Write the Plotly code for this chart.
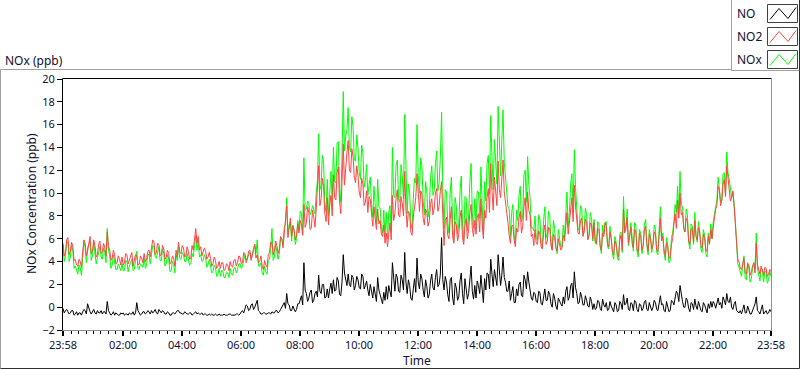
import pandas as pd
import plotly.graph_objects as go

# ---- data: samples every 5 min (a) and the in-between samples (b) ----
start_time = "2020-01-01 23:58"
step = "5min"
half_step = "150s"

no2_rows = [
    [5.6, 4.8, 6.1, 4.9, 5.3, 4.2, 3.6, 4.0, 4.8, 5.6, 4.9, 6.2],
    [4.9, 5.4, 4.6, 5.8, 4.8, 5.2, 6.6, 5.0, 4.3, 4.6, 3.9, 4.2],
    [4.4, 3.9, 4.6, 4.1, 4.8, 4.0, 4.5, 3.8, 4.3, 4.7, 4.2, 5.0],
    [5.2, 5.7, 4.8, 5.5, 4.6, 5.1, 4.4, 4.7, 3.9, 4.3, 5.0, 5.7],
    [4.7, 5.2, 4.5, 4.9, 4.3, 5.0, 6.9, 6.2, 5.3, 4.8, 4.9, 4.4],
    [4.3, 3.8, 4.1, 3.6, 3.4, 3.9, 3.3, 3.7, 4.0, 3.5, 4.2, 3.9],
    [4.4, 3.9, 4.7, 4.2, 5.0, 4.5, 5.5, 4.6, 4.0, 3.6, 4.1, 3.5],
    [4.8, 5.6, 4.9, 5.4, 5.1, 6.0, 6.6, 8.9, 7.0, 6.2, 6.8, 6.3],
    [6.5, 7.2, 9.0, 7.4, 8.3, 6.9, 7.9, 8.6, 12.4, 9.5, 10.6, 7.5],
    [7.2, 9.8, 11.6, 9.4, 12.3, 8.2, 14.3, 12.5, 14.6, 11.8, 13.2, 10.9],
    [11.5, 9.6, 10.8, 9.2, 8.3, 9.4, 7.1, 8.0, 8.6, 7.6, 6.2, 5.6],
    [5.3, 7.4, 9.8, 8.2, 10.3, 7.9, 9.1, 11.9, 7.0, 8.2, 6.3, 8.8],
    [11.7, 8.4, 9.9, 7.2, 8.3, 7.6, 9.5, 8.7, 10.4, 8.9, 11.0, 5.4],
    [7.9, 6.0, 8.8, 5.6, 7.2, 6.4, 8.5, 5.5, 7.8, 6.8, 9.0, 6.2],
    [6.4, 8.2, 9.5, 6.0, 7.8, 10.4, 12.6, 8.5, 10.2, 12.8, 9.6, 12.9],
    [9.3, 7.4, 5.6, 7.2, 5.3, 6.6, 8.4, 7.1, 9.6, 10.1, 8.1, 6.4],
    [6.8, 5.5, 6.4, 5.1, 7.2, 5.8, 6.9, 5.0, 6.1, 4.9, 5.6, 5.2],
    [5.8, 8.3, 7.4, 9.6, 10.7, 7.6, 6.4, 7.8, 6.6, 7.5, 6.3, 7.2],
    [7.4, 5.6, 6.8, 5.0, 6.2, 7.1, 5.3, 6.0, 4.6, 5.5, 4.4, 6.3],
    [8.6, 6.9, 5.6, 7.0, 5.2, 6.7, 4.8, 6.3, 5.4, 7.1, 4.9, 6.0],
    [5.5, 6.4, 4.9, 7.8, 6.2, 4.5, 5.3, 4.4, 6.0, 8.2, 9.4, 10.0],
    [8.3, 6.6, 7.5, 5.5, 6.8, 7.6, 5.9, 6.5, 5.2, 6.1, 4.9, 5.6],
    [6.0, 7.8, 8.9, 10.3, 9.4, 11.2, 12.4, 10.8, 9.6, 8.8, 5.3, 4.0],
    [3.3, 4.3, 2.9, 3.7, 3.1, 3.9, 5.6, 3.2, 3.6, 2.8, 3.4, 2.9, 3.1],
]
no2_mid_rows = [
    [4.5, 5.9, 4.6, 5.7, 4.1, 3.7, 4.2, 3.5, 5.9, 4.5, 5.8, 4.7],
    [5.9, 4.4, 5.5, 4.7, 5.6, 4.5, 5.3, 4.1, 5.0, 3.8, 4.5, 3.7],
    [3.7, 4.7, 3.8, 4.5, 3.6, 4.6, 3.7, 4.5, 3.9, 4.0, 4.9, 4.4],
    [5.9, 4.6, 5.6, 4.5, 5.4, 4.2, 5.0, 3.8, 4.5, 3.6, 4.4, 4.8],
    [5.4, 4.4, 5.3, 4.2, 5.4, 5.9, 5.6, 5.0, 4.5, 5.2, 4.2, 4.8],
    [3.6, 4.4, 3.4, 4.0, 3.9, 3.2, 3.8, 3.2, 3.6, 4.1, 3.6, 4.5],
    [3.8, 4.8, 3.9, 4.9, 4.1, 5.2, 4.3, 3.9, 4.5, 3.3, 3.7, 4.6],
    [5.7, 4.6, 5.8, 4.7, 6.2, 5.2, 7.4, 6.1, 7.8, 7.1, 5.9, 7.3],
    [7.6, 6.3, 7.0, 8.8, 6.8, 8.5, 7.0, 10.2, 8.9, 11.3, 8.2, 9.6],
    [8.9, 8.0, 9.6, 11.8, 9.3, 11.0, 10.7, 13.6, 12.0, 13.9, 11.4, 12.4],
    [10.1, 11.3, 8.9, 10.2, 9.7, 7.8, 8.8, 6.8, 7.3, 6.4, 7.2, 6.5],
    [6.4, 5.9, 7.6, 9.6, 8.1, 9.7, 8.0, 8.5, 8.4, 6.6, 7.9, 9.6],
    [9.4, 10.2, 7.8, 8.6, 7.1, 9.0, 8.1, 10.0, 8.4, 10.2, 8.0, 7.6],
    [6.3, 7.7, 6.2, 7.5, 5.8, 7.9, 6.1, 7.2, 6.0, 8.3, 6.9, 7.6],
    [7.9, 6.6, 7.4, 8.5, 9.6, 8.3, 10.2, 11.4, 8.9, 10.3, 11.8, 10.1],
    [8.2, 6.3, 7.1, 5.9, 6.9, 7.8, 6.5, 8.8, 7.6, 8.5, 6.2, 5.4],
    [5.6, 6.7, 5.3, 6.6, 5.5, 7.0, 5.4, 6.4, 5.2, 6.0, 5.0, 6.3],
    [7.2, 6.4, 8.9, 7.5, 8.8, 6.5, 7.6, 6.2, 7.7, 5.9, 7.4, 6.0],
    [5.8, 6.9, 5.4, 6.5, 7.4, 5.6, 6.6, 4.9, 5.8, 4.7, 5.9, 5.0],
    [6.5, 7.8, 6.4, 5.6, 6.8, 5.1, 6.5, 5.0, 6.8, 5.6, 6.4, 5.1],
    [6.6, 5.0, 6.3, 5.8, 5.0, 5.6, 4.3, 5.5, 7.3, 6.9, 7.8, 8.1],
    [6.9, 7.8, 5.8, 6.9, 5.7, 6.2, 7.0, 5.4, 6.4, 5.0, 6.2, 6.8],
    [7.0, 8.6, 10.6, 8.9, 10.8, 9.7, 11.3, 9.3, 10.2, 7.0, 4.2, 3.4],
    [3.9, 3.0, 3.8, 2.8, 3.6, 3.0, 3.7, 2.9, 3.1, 3.5, 2.7, 3.3],
]

no_rows = [
    [-0.1, -0.3, -0.4, -0.5, -0.3, -0.6, -0.7, -0.5, -0.4, -0.3, 0.3, -0.4],
    [-0.4, -0.5, -0.3, -0.5, -0.6, -0.4, 0.5, -0.5, -0.6, -0.7, -0.6, -0.7],
    [-0.6, -0.7, -0.6, -0.5, -0.6, -0.7, 0.4, -0.5, -0.6, -0.4, -0.5, -0.4],
    [-0.3, -0.4, -0.5, -0.2, -0.5, -0.4, -0.6, -0.5, -0.7, -0.5, -0.4, -0.3],
    [-0.5, -0.6, -0.5, -0.6, -0.5, -0.6, -0.4, -0.5, -0.6, -0.7, -0.6, -0.7],
    [-0.7, -0.7, -0.6, -0.7, -0.7, -0.7, -0.7, -0.7, -0.6, -0.7, -0.7, -0.6],
    [-0.6, -0.3, -0.1, 0.1, -0.2, 0.3, 0.0, 0.6, -0.4, -0.6, -0.5, -0.6],
    [-0.5, -0.4, -0.5, -0.3, -0.4, 0.0, 0.4, 1.2, 0.2, -0.3, -0.1, -0.2],
    [0.3, 1.0, 3.9, 1.2, 0.8, 1.5, 0.6, 1.4, 2.8, 1.2, 2.0, 0.9],
    [0.8, 2.1, 2.4, 1.5, 2.3, 1.0, 4.6, 2.5, 2.9, 1.8, 2.6, 1.9],
    [2.4, 1.6, 2.7, 1.9, 1.5, 2.0, 0.8, 1.3, 2.6, 1.1, 0.3, 0.6],
    [0.7, 1.5, 3.9, 1.4, 2.6, 1.3, 2.4, 4.8, 1.2, 1.9, 0.6, 2.5],
    [4.3, 1.6, 2.5, 0.9, 1.8, 1.1, 2.9, 1.5, 3.3, 2.0, 6.1, 1.5],
    [2.2, 0.5, 2.6, 0.2, 1.7, 0.9, 3.0, 0.3, 1.8, 1.2, 3.6, 0.7],
    [0.8, 1.9, 2.8, 0.4, 1.5, 2.9, 4.2, 1.8, 2.6, 4.6, 1.9, 4.4],
    [2.2, 1.4, 0.6, 1.8, 0.4, 1.0, 2.2, 0.9, 2.4, 3.1, 1.5, 0.6],
    [1.2, 0.4, 1.3, 0.2, 1.6, 0.6, 1.1, 0.0, 0.8, -0.2, 0.5, 0.1],
    [0.3, 1.8, 0.9, 2.1, 3.1, 1.2, 0.4, 0.9, 0.2, 0.6, 0.0, 0.5],
    [0.3, -0.1, 0.5, -0.3, 0.2, 0.4, -0.2, 0.1, -0.4, 0.2, -0.3, 0.3],
    [1.1, 0.3, -0.2, 0.4, -0.3, 0.5, -0.4, 0.2, -0.1, 0.6, -0.3, 0.1],
    [0.0, 0.4, -0.3, 1.0, 0.3, -0.4, 0.1, -0.3, 0.5, 0.8, 1.2, 1.9],
    [0.5, 0.0, 0.6, -0.4, 0.3, 0.7, -0.2, 0.1, -0.4, 0.2, -0.5, -0.1],
    [0.0, 0.3, 0.5, 0.2, -0.1, 0.6, 1.2, 0.4, 0.0, 0.3, -0.3, -0.5],
    [-0.6, 0.2, -0.5, -0.3, -0.6, 0.0, 0.9, -0.4, -0.2, -0.6, -0.3, -0.5, -0.4],
]
no_mid_rows = [
    [-0.5, -0.2, -0.6, -0.3, -0.7, -0.4, -0.5, -0.7, -0.2, -0.6, -0.2, -0.6],
    [-0.2, -0.6, -0.5, -0.3, -0.4, -0.6, -0.3, -0.7, -0.4, -0.5, -0.7, -0.5],
    [-0.5, -0.6, -0.7, -0.6, -0.4, -0.5, -0.3, -0.7, -0.4, -0.6, -0.3, -0.6],
    [-0.5, -0.2, -0.6, -0.4, -0.3, -0.6, -0.4, -0.7, -0.5, -0.6, -0.3, -0.5],
    [-0.6, -0.4, -0.6, -0.5, -0.7, -0.5, -0.6, -0.6, -0.5, -0.6, -0.7, -0.6],
    [-0.6, -0.7, -0.7, -0.6, -0.7, -0.6, -0.7, -0.6, -0.7, -0.7, -0.6, -0.7],
    [-0.4, -0.5, 0.2, -0.3, 0.2, -0.2, 0.4, -0.3, -0.6, -0.5, -0.6, -0.5],
    [-0.6, -0.5, -0.3, -0.5, -0.2, 0.3, -0.1, 0.3, -0.3, 0.1, -0.4, 0.3],
    [0.8, 0.2, 1.5, 0.5, 1.3, 0.4, 1.2, 0.9, 1.4, 2.0, 0.8, 1.6],
    [1.6, 1.2, 1.4, 2.6, 1.1, 2.2, 3.0, 1.9, 2.0, 2.8, 1.5, 2.7],
    [1.7, 2.9, 1.6, 2.3, 1.0, 1.2, 1.8, 0.5, 1.5, 0.6, 1.3, 1.8],
    [1.9, 0.9, 2.2, 2.9, 1.4, 2.8, 1.5, 2.2, 2.4, 0.8, 1.6, 1.3],
    [2.2, 2.9, 1.5, 2.4, 0.8, 2.3, 1.7, 2.6, 1.8, 2.9, 2.4, 2.7],
    [1.1, 2.4, 0.8, 2.1, 0.6, 2.3, 1.2, 2.5, 0.7, 2.7, 1.4, 1.9],
    [2.3, 1.2, 1.6, 2.5, 3.0, 1.6, 2.9, 3.3, 1.9, 3.2, 2.8, 2.6],
    [1.4, 2.3, 1.2, 0.4, 1.6, 2.0, 1.0, 2.8, 1.6, 2.2, 0.8, 1.3],
    [0.5, 1.4, 0.3, 1.0, 0.6, 1.4, 0.3, 1.2, 0.1, 0.8, 0.3, 0.9],
    [1.4, 0.6, 1.9, 0.8, 1.7, 0.3, 1.3, 0.2, 1.0, 0.1, 0.9, -0.2],
    [-0.2, 0.6, -0.1, 0.7, 0.0, -0.3, 0.5, -0.2, 0.4, -0.4, 0.5, -0.2],
    [0.2, 0.8, -0.3, 0.3, 0.6, -0.2, 0.3, -0.3, 0.5, -0.2, 0.4, -0.3],
    [0.6, -0.2, 0.5, 0.2, -0.3, 0.5, -0.4, 0.6, 0.2, 1.4, 0.5, 0.9],
    [0.0, 0.8, -0.1, 0.4, -0.2, 0.1, 0.5, -0.3, 0.4, -0.3, 0.3, 0.5],
    [0.5, -0.1, 0.8, 0.4, 0.9, 0.2, 0.5, 0.9, -0.2, 0.5, -0.4, -0.3],
    [-0.2, -0.5, 0.1, -0.6, -0.2, 0.3, -0.3, -0.6, 0.2, -0.4, -0.6, -0.2],
]

nox_rows = [
    [5.5, 4.5, 5.7, 4.4, 5.0, 3.6, 2.9, 3.5, 4.4, 5.3, 5.2, 5.8],
    [4.5, 4.9, 4.3, 5.3, 4.2, 4.8, 6.9, 4.5, 3.7, 3.9, 3.3, 3.5],
    [3.8, 3.2, 4.0, 3.6, 4.2, 3.3, 4.9, 3.3, 3.7, 4.3, 3.7, 4.6],
    [4.9, 5.3, 4.3, 5.3, 4.1, 4.7, 3.8, 4.2, 3.2, 3.8, 4.6, 5.4],
    [4.2, 4.6, 4.0, 4.3, 3.8, 4.4, 6.3, 5.8, 4.6, 4.1, 4.3, 3.7],
    [3.6, 3.1, 3.5, 2.9, 2.7, 3.2, 2.6, 3.0, 3.4, 2.8, 3.5, 3.3],
    [3.8, 3.6, 4.6, 4.3, 4.8, 4.8, 5.5, 5.9, 3.6, 3.0, 3.6, 2.9],
    [4.2, 6.9, 4.4, 5.0, 4.7, 6.0, 7.0, 9.6, 7.2, 5.8, 6.7, 6.0],
    [6.8, 8.2, 13.1, 8.6, 9.1, 8.4, 8.5, 10.0, 15.2, 10.7, 12.6, 8.4],
    [8.0, 11.9, 14.0, 10.9, 14.5, 9.2, 18.9, 15.0, 17.5, 13.6, 15.8, 12.8],
    [13.9, 11.2, 13.5, 11.1, 9.8, 11.4, 7.9, 9.3, 11.2, 8.7, 6.5, 6.2],
    [6.0, 8.9, 14.0, 9.6, 12.9, 9.2, 11.5, 16.9, 8.2, 10.1, 6.9, 11.3],
    [16.0, 10.0, 12.4, 8.1, 10.1, 8.7, 12.4, 10.2, 13.7, 10.9, 17.1, 6.9],
    [10.1, 6.5, 11.4, 5.8, 8.9, 7.3, 11.5, 5.8, 9.6, 8.0, 12.6, 6.9],
    [7.2, 10.1, 12.3, 6.4, 9.3, 13.3, 16.8, 10.3, 12.8, 17.6, 11.5, 17.3],
    [11.5, 8.8, 6.2, 9.0, 5.7, 7.6, 10.6, 8.0, 12.0, 13.2, 9.6, 7.0],
    [8.0, 5.9, 7.7, 5.3, 8.8, 6.4, 8.0, 5.0, 6.9, 4.7, 6.1, 5.3],
    [6.1, 10.1, 8.3, 11.7, 13.8, 8.8, 6.8, 8.7, 6.8, 8.1, 6.3, 7.7],
    [7.7, 5.5, 7.3, 4.7, 6.4, 7.5, 5.1, 6.1, 4.2, 5.7, 4.1, 6.6],
    [9.7, 7.2, 5.4, 7.4, 4.9, 7.2, 4.4, 6.5, 5.3, 7.7, 4.6, 6.1],
    [5.5, 6.8, 4.6, 8.8, 6.5, 4.1, 5.4, 4.1, 6.5, 9.0, 10.6, 11.9],
    [8.8, 6.6, 8.1, 5.1, 7.1, 8.3, 5.7, 6.6, 4.8, 6.3, 4.4, 5.5],
    [6.0, 8.1, 9.4, 10.5, 9.3, 11.8, 13.6, 11.2, 9.6, 9.1, 5.0, 3.5],
    [2.7, 4.5, 2.4, 3.4, 2.5, 3.9, 6.5, 2.8, 3.4, 2.2, 3.1, 2.4, 2.7],
]
nox_mid_rows = [
    [4.0, 5.7, 4.0, 5.4, 3.4, 3.3, 3.7, 2.8, 5.7, 3.9, 5.6, 4.1],
    [5.7, 3.8, 5.0, 4.4, 5.2, 3.9, 5.0, 3.4, 4.6, 3.3, 3.8, 3.2],
    [3.2, 4.1, 3.1, 3.9, 3.2, 4.1, 3.4, 3.8, 3.5, 3.4, 4.6, 3.8],
    [5.4, 4.4, 5.0, 4.1, 5.1, 3.6, 4.6, 3.1, 4.0, 3.0, 4.1, 4.3],
    [4.8, 4.0, 4.7, 3.7, 4.7, 5.4, 5.0, 4.4, 4.0, 4.6, 3.5, 4.2],
    [3.0, 3.7, 2.7, 3.4, 3.2, 2.6, 3.1, 2.6, 2.9, 3.4, 3.0, 3.8],
    [3.4, 4.3, 4.1, 4.6, 4.3, 5.0, 4.7, 3.6, 3.9, 2.8, 3.1, 4.1],
    [5.1, 4.1, 5.5, 4.2, 6.0, 5.5, 7.3, 6.4, 7.5, 7.2, 5.5, 7.6],
    [8.4, 6.5, 8.5, 9.3, 8.1, 8.9, 8.2, 11.1, 10.3, 13.3, 9.0, 11.2],
    [10.5, 9.2, 11.0, 14.4, 10.4, 13.2, 13.7, 15.5, 14.0, 16.7, 12.9, 15.1],
    [11.8, 14.2, 10.5, 12.5, 10.7, 9.0, 10.6, 7.3, 8.8, 7.0, 8.5, 8.3],
    [8.3, 6.8, 9.8, 12.5, 9.5, 12.5, 9.5, 10.7, 10.8, 7.4, 9.5, 10.9],
    [11.6, 13.1, 9.3, 11.0, 7.9, 11.3, 9.8, 12.6, 10.2, 13.1, 10.4, 10.3],
    [7.4, 10.1, 7.0, 9.6, 6.4, 10.2, 7.3, 9.7, 6.7, 11.0, 8.3, 9.5],
    [10.2, 7.8, 9.0, 11.0, 12.6, 9.9, 13.1, 14.7, 10.8, 13.5, 14.6, 12.7],
    [9.6, 8.6, 8.3, 6.3, 8.5, 9.8, 7.5, 11.6, 9.2, 10.7, 7.0, 6.7],
    [6.1, 8.1, 5.6, 7.6, 6.1, 8.4, 5.7, 7.6, 5.3, 6.8, 5.3, 7.2],
    [8.6, 7.0, 10.8, 8.3, 10.5, 6.8, 8.9, 6.4, 8.7, 6.0, 8.3, 5.8],
    [5.6, 7.5, 5.3, 7.2, 7.4, 5.3, 7.1, 4.7, 6.2, 4.3, 6.4, 4.8],
    [6.7, 8.6, 6.1, 5.9, 7.4, 4.9, 6.8, 4.7, 7.3, 5.4, 6.8, 4.8],
    [7.2, 4.8, 6.8, 6.0, 4.7, 6.1, 3.9, 6.1, 7.5, 8.3, 8.3, 9.0],
    [6.9, 8.6, 5.7, 7.3, 5.5, 6.3, 7.5, 5.1, 6.8, 4.7, 6.5, 7.3],
    [7.5, 8.5, 11.4, 9.3, 11.7, 9.9, 11.8, 10.2, 10.0, 7.5, 3.8, 3.1],
    [3.7, 2.5, 3.9, 2.2, 3.4, 3.3, 3.4, 2.3, 3.3, 3.1, 2.1, 3.1],
]

tick_vals = ["2020-01-01 23:58", "2020-01-02 02:00", "2020-01-02 04:00",
             "2020-01-02 06:00", "2020-01-02 08:00", "2020-01-02 10:00",
             "2020-01-02 12:00", "2020-01-02 14:00", "2020-01-02 16:00",
             "2020-01-02 18:00", "2020-01-02 20:00", "2020-01-02 22:00",
             "2020-01-02 23:58"]
tick_text = ["23:58", "02:00", "04:00", "06:00", "08:00", "10:00", "12:00",
             "14:00", "16:00", "18:00", "20:00", "22:00", "23:58"]
y_ticks = list(range(-2, 21, 2))


def flat(rows):
    return [v for r in rows for v in r]


def merge(main_rows, mid_rows):
    a, b = flat(main_rows), flat(mid_rows)
    out = []
    for i, v in enumerate(a):
        out.append(v)
        if i < len(b):
            out.append(b[i])
    return out


no2 = merge(no2_rows, no2_mid_rows)
no = merge(no_rows, no_mid_rows)
nox = merge(nox_rows, nox_mid_rows)
times = pd.date_range(start_time, periods=len(no2), freq=half_step)

RED = "#ff4444"
GREEN = "#00ff00"
BLACK = "#000000"
TXT = "#101030"
FONT = "Noto Sans"

fig = go.Figure()
fig.add_trace(go.Scatter(x=times, y=no, mode="lines", name="NO",
                         line=dict(color=BLACK, width=1)))
fig.add_trace(go.Scatter(x=times, y=nox, mode="lines", name="NOx",
                         line=dict(color=GREEN, width=1)))
fig.add_trace(go.Scatter(x=times, y=no2, mode="lines", name="NO2",
                         line=dict(color=RED, width=1)))

# pixel -> paper helpers (plot area 63..771 x 79..330)
L, R, T, B = 63, 771, 79, 330
def px(x):
    return (x - L) / (R - L)
def py(y):
    return (B - y) / (B - T)

shapes = []
def line(x0, y0, x1, y1, color, w=1):
    shapes.append(dict(type="line", xref="paper", yref="paper",
                       x0=px(x0), y0=py(y0), x1=px(x1), y1=py(y1),
                       line=dict(color=color, width=w), layer="above"))

# outer panel frame
line(0.5, 69.5, 799.5, 69.5, "#a0a0a0")
line(0.5, 69.5, 0.5, 368.5, "#a0a0a0")
line(799.5, 69.5, 799.5, 368.5, "#303030")
line(0.5, 368.5, 799.5, 368.5, "#303030")
# plot area frame
line(62.5, 78.5, 771.5, 78.5, BLACK)
line(62.5, 78.5, 62.5, 330.5, BLACK)
line(771.5, 78.5, 771.5, 330.5, "#909090")
line(62.5, 330.5, 771.5, 330.5, "#909090")

# legend box
shapes.append(dict(type="rect", xref="paper", yref="paper",
                   x0=px(731.5), y0=py(70.5), x1=px(799.5), y1=py(-1),
                   fillcolor="white", line=dict(color="#a0a0a0", width=1),
                   layer="above"))
line(799.5, 0, 799.5, 70.5, "#303030")

annotations = []
legend_items = [("NO", BLACK, 4.5), ("NO2", RED, 27.5), ("NOx", GREEN, 50.5)]
for name, color, top in legend_items:
    shapes.append(dict(type="rect", xref="paper", yref="paper",
                       x0=px(767.5), y0=py(top + 18), x1=px(797.5), y1=py(top),
                       fillcolor="white", line=dict(color="#404040", width=1),
                       layer="above"))
    pts = [(770, top + 15), (779, top + 4), (788, top + 14), (796, top + 3)]
    path = "M " + " L ".join(f"{px(a)},{py(b)}" for a, b in pts)
    shapes.append(dict(type="path", xref="paper", yref="paper", path=path,
                       line=dict(color=color, width=1), layer="above"))
    annotations.append(dict(text=name, xref="paper", yref="paper",
                            x=px(735), y=py(top + 9), xanchor="left",
                            yanchor="middle", showarrow=False,
                            font=dict(family=FONT, size=12, color=TXT)))

annotations.append(dict(text="NOx (ppb)", xref="paper", yref="paper",
                        x=px(3), y=py(60), xanchor="left", yanchor="middle",
                        showarrow=False,
                        font=dict(family=FONT, size=12, color=TXT)))
annotations.append(dict(text="NOx Concentration (ppb)", xref="paper",
                        yref="paper", x=px(31), y=py(204), textangle=-90,
                        xanchor="center", yanchor="middle", showarrow=False,
                        font=dict(family=FONT, size=12, color=TXT)))
annotations.append(dict(text="Time", xref="paper", yref="paper",
                        x=px(417), y=py(360), xanchor="center",
                        yanchor="middle", showarrow=False,
                        font=dict(family=FONT, size=12, color=TXT)))

fig.update_layout(
    width=800, height=369,
    margin=dict(l=L, r=800 - R, t=T, b=369 - B),
    paper_bgcolor="white", plot_bgcolor="white",
    showlegend=False,
    shapes=shapes, annotations=annotations,
    font=dict(family=FONT, size=11, color=TXT),
)
fig.update_xaxes(
    range=[tick_vals[0], tick_vals[-1]],
    tickmode="array", tickvals=tick_vals, ticktext=tick_text,
    ticks="outside", ticklen=5, tickwidth=2, tickcolor=BLACK,
    showgrid=False, zeroline=False, showline=False,
    tickfont=dict(family=FONT, size=11, color=TXT),
    minor=dict(ticks="outside", ticklen=3, tickwidth=1, tickcolor=BLACK,
               dtick=15 * 60 * 1000, tick0="2020-01-02 00:00",
               showgrid=False),
)
fig.update_yaxes(
    range=[-2, 20], tickmode="array", tickvals=y_ticks,
    ticks="outside", ticklen=5, tickcolor=BLACK,
    showgrid=False, zeroline=False, showline=False,
    tickfont=dict(family=FONT, size=11, color=TXT),
)

fig.write_html("out.html",
               config={"displayModeBar": False},
               post_script="document.body.style.margin='0';"
                           "document.body.style.overflow='hidden';")
